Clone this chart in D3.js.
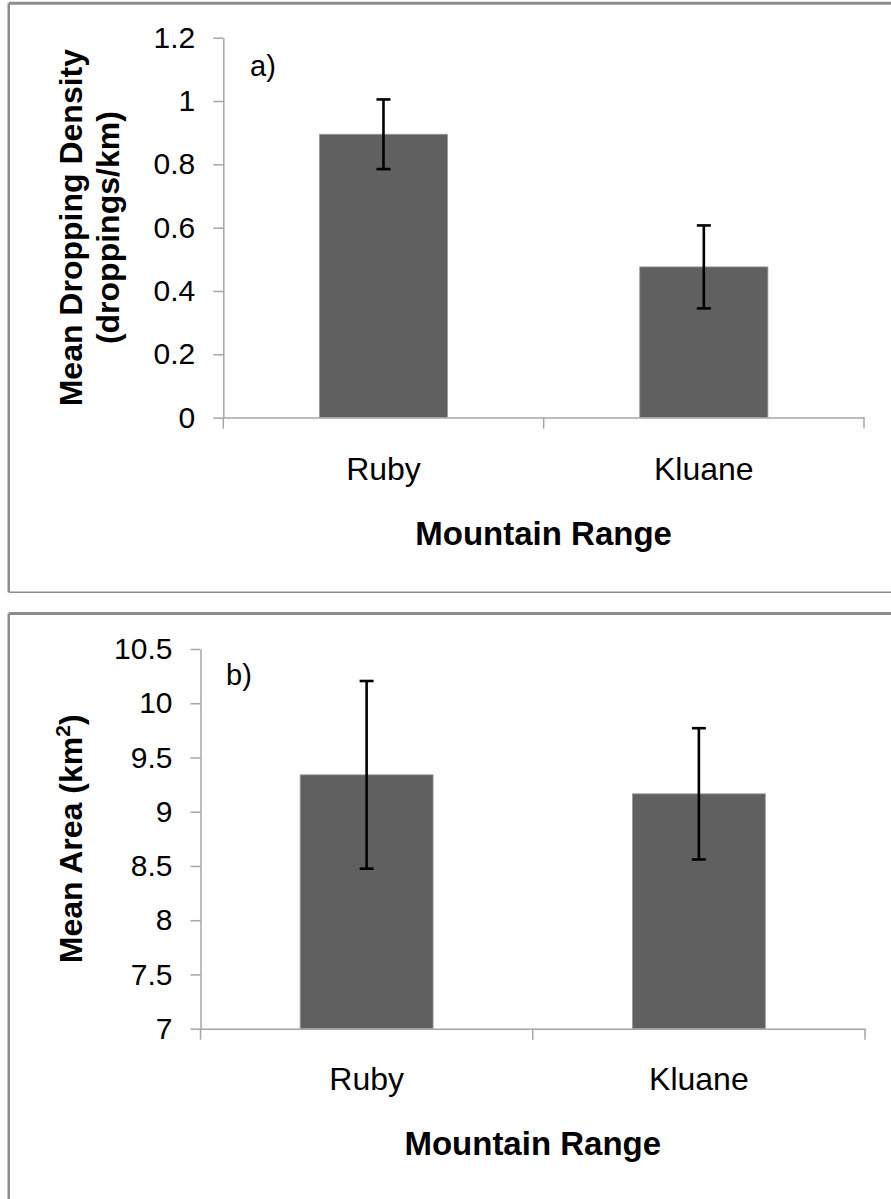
<!DOCTYPE html>
<html>
<head>
<meta charset="utf-8">
<script src="https://cdn.jsdelivr.net/npm/d3@7"></script>
<style>
  html, body { margin: 0; padding: 0; background: #fff; }
  svg { display: block; }
  text { font-family: "Liberation Sans", Arial, sans-serif; fill: #000; }
</style>
</head>
<body>
<svg id="chart" width="891" height="1199"></svg>
<script>
// ---- data ----
const categories = ["Ruby", "Kluane"];
const densityMean = [0.895, 0.476];
const densityErr = [0.11, 0.131];
const densityTicks = [0, 0.2, 0.4, 0.6, 0.8, 1, 1.2];
const areaMean = [9.34, 9.165];
const areaErr = [0.865, 0.605];
const areaTicks = [7, 7.5, 8, 8.5, 9, 9.5, 10, 10.5];
const xTitle = "Mountain Range";

const svg = d3.select("#chart");
const borderColor = "#8c8c8c";
const axisColor = "#a6a6a6";
const barColor = "#606060";
const fmt = d3.format("~g");

// panel borders
function panelBorder(top, bottom, bottomWidth, topWidth) {
  svg.append("line").attr("x1", 8.75).attr("x2", 891).attr("y1", top).attr("y2", top)
    .attr("stroke", borderColor).attr("stroke-width", topWidth);
  svg.append("line").attr("x1", 8.75).attr("x2", 8.75).attr("y1", top).attr("y2", bottom)
    .attr("stroke", borderColor).attr("stroke-width", 2.5);
  if (bottomWidth) {
    svg.append("line").attr("x1", 8.75).attr("x2", 891).attr("y1", bottom).attr("y2", bottom)
      .attr("stroke", borderColor).attr("stroke-width", bottomWidth);
  }
}
panelBorder(3.3, 592.3, 1.6, 3);
panelBorder(613.5, 1199, 0, 2.8);

function drawPanel(cfg) {
  const g = svg.append("g");
  const y = d3.scaleLinear().domain(cfg.domain).range([cfg.y0, cfg.y1]);
  const x = d3.scaleBand().domain(categories).range([cfg.x0, cfg.x1]).padding(0);
  const bw = x.bandwidth();

  // y axis
  const ya = g.append("g").attr("transform", `translate(${cfg.x0},0)`)
    .call(d3.axisLeft(y).tickValues(cfg.ticks).tickFormat(fmt)
      .tickSize(10).tickPadding(18).tickSizeOuter(0));
  ya.select(".domain").attr("stroke", axisColor).attr("stroke-width", 1.5);
  ya.selectAll(".tick line").attr("stroke", axisColor).attr("stroke-width", 1.5);
  ya.selectAll(".tick text").style("font-family", "Liberation Sans, Arial, sans-serif")
    .style("font-size", "30px").attr("fill", "#000");

  // bars
  g.selectAll("rect.bar").data(categories).enter().append("rect")
    .attr("class", "bar")
    .attr("x", d => x(d) + bw * 0.3)
    .attr("width", bw * 0.4)
    .attr("y", (d, i) => y(cfg.mean[i]))
    .attr("height", (d, i) => y(cfg.domain[0]) - y(cfg.mean[i]))
    .attr("fill", barColor)
    .attr("stroke", "#9a9a9a").attr("stroke-width", 0.8);

  // x axis
  const xa = g.append("g").attr("transform", `translate(0,${cfg.y0})`)
    .call(d3.axisBottom(x).tickSize(0).tickPadding(0).tickSizeOuter(0));
  xa.select(".domain").attr("stroke", axisColor).attr("stroke-width", 1.5);
  xa.selectAll(".tick text").attr("dy", null).attr("y", cfg.catDy)
    .style("font-family", "Liberation Sans, Arial, sans-serif")
    .style("font-size", "32px").attr("fill", "#000");
  const bounds = categories.map(d => x(d)).concat([x(categories[categories.length - 1]) + bw]);
  xa.selectAll("line.bound").data(bounds).enter().append("line")
    .attr("class", "bound")
    .attr("x1", d => d).attr("x2", d => d).attr("y1", 0).attr("y2", 11)
    .attr("stroke", axisColor).attr("stroke-width", 1.5);

  // error bars
  const eb = g.selectAll("g.err").data(categories).enter().append("g").attr("class", "err");
  eb.append("line")
    .attr("x1", d => x(d) + bw / 2).attr("x2", d => x(d) + bw / 2)
    .attr("y1", (d, i) => y(cfg.mean[i] + cfg.err[i]))
    .attr("y2", (d, i) => y(cfg.mean[i] - cfg.err[i]))
    .attr("stroke", "#000").attr("stroke-width", 2.6);
  [1, -1].forEach(s => {
    eb.append("line")
      .attr("x1", d => x(d) + bw / 2 - 7).attr("x2", d => x(d) + bw / 2 + 7)
      .attr("y1", (d, i) => y(cfg.mean[i] + s * cfg.err[i]))
      .attr("y2", (d, i) => y(cfg.mean[i] + s * cfg.err[i]))
      .attr("stroke", "#000").attr("stroke-width", 2.6);
  });

  // x title
  g.append("text").attr("x", (cfg.x0 + cfg.x1) / 2).attr("y", cfg.y0 + cfg.titleDy)
    .attr("text-anchor", "middle").style("font-size", "33px").style("font-weight", "bold")
    .text(xTitle);

  // panel label
  g.append("text").attr("x", cfg.labelX).attr("y", cfg.labelY)
    .style("font-size", "29px").text(cfg.label);

  // y title
  const cy = (cfg.y0 + cfg.y1) / 2;
  cfg.yTitle(g, cy);
}

drawPanel({
  domain: [0, 1.2], ticks: densityTicks, mean: densityMean, err: densityErr,
  x0: 223.3, x1: 864, y0: 417.6, y1: 37.7, catDy: 62.5, titleDy: 127.5,
  label: "a)", labelX: 250, labelY: 76,
  yTitle: (g, cy) => {
    g.append("text").attr("transform", `translate(82,${cy}) rotate(-90)`)
      .attr("text-anchor", "middle").style("font-size", "32px").style("font-weight", "bold")
      .text("Mean Dropping Density");
    g.append("text").attr("transform", `translate(119,${cy}) rotate(-90)`)
      .attr("text-anchor", "middle").style("font-size", "32px").style("font-weight", "bold")
      .text("(droppings/km)");
  }
});

drawPanel({
  domain: [7, 10.5], ticks: areaTicks, mean: areaMean, err: areaErr,
  x0: 200.5, x1: 865, y0: 1028.7, y1: 649, catDy: 61.3, titleDy: 126.3,
  label: "b)", labelX: 226, labelY: 685,
  yTitle: (g, cy) => {
    const t = g.append("text").attr("transform", `translate(82,${cy}) rotate(-90)`)
      .attr("text-anchor", "middle").style("font-size", "32px").style("font-weight", "bold");
    t.append("tspan").text("Mean Area (km");
    t.append("tspan").attr("dy", -12).style("font-size", "21px").text("2");
    t.append("tspan").attr("dy", 12).text(")");
  }
});
</script>
</body>
</html>
